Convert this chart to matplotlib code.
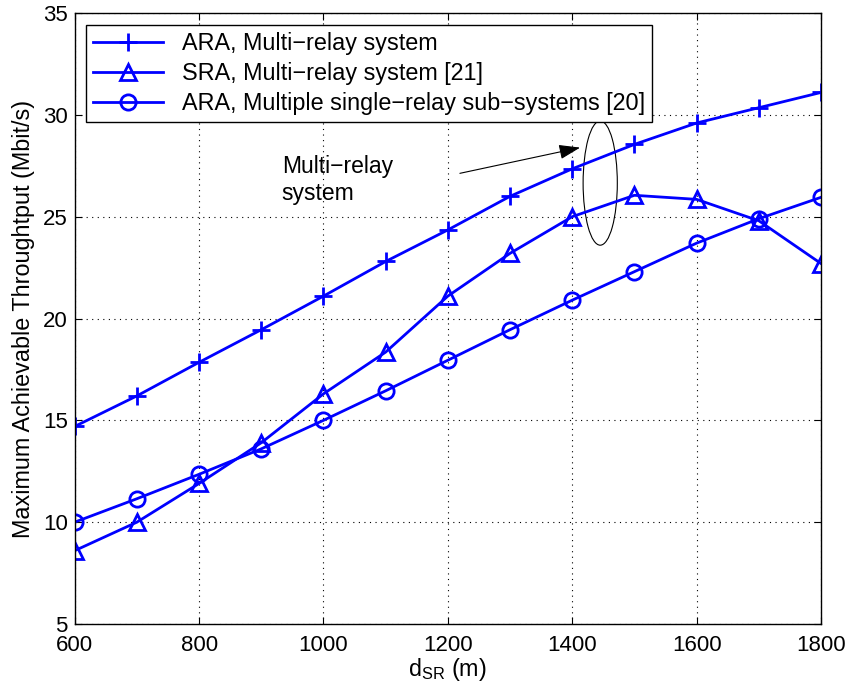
import matplotlib.pyplot as plt
from matplotlib.patches import Ellipse

plt.rcParams['font.family'] = ['Liberation Sans', 'DejaVu Sans']
plt.rcParams['mathtext.fontset'] = 'custom'
plt.rcParams['mathtext.rm'] = 'Liberation Sans'

d_sr = [600, 700, 800, 900, 1000, 1100, 1200, 1300, 1400, 1500, 1600, 1700, 1800]
ara_multi = [14.7, 16.2, 17.85, 19.45, 21.1, 22.8, 24.35, 26.0, 27.35, 28.55, 29.6, 30.35, 31.1]
sra_multi = [8.6, 10.0, 11.9, 13.9, 16.3, 18.35, 21.1, 23.2, 25.0, 26.05, 25.85, 24.8, 22.7]
ara_single = [10.0, 11.15, 12.35, 13.6, 15.0, 16.45, 17.95, 19.45, 20.9, 22.3, 23.7, 24.9, 25.95]

labels = ['ARA, Multi\u2212relay system',
          'SRA, Multi\u2212relay system [21]',
          'ARA, Multiple single\u2212relay sub\u2212systems [20]']

fig = plt.figure(figsize=(8.49, 6.93), dpi=100)
ax = fig.add_axes([0.088, 0.0996, 0.879, 0.8816])

ax.plot(d_sr, ara_multi, color='blue', lw=2, marker='+', ms=13, mew=2, label=labels[0])
ax.plot(d_sr, sra_multi, color='blue', lw=2, marker='^', ms=12, mew=2, mfc='none', label=labels[1])
ax.plot(d_sr, ara_single, color='blue', lw=2, marker='o', ms=11, mew=2, mfc='none', label=labels[2])

# ellipse + annotation
ax.add_patch(Ellipse((1445, 26.65), 55, 6.1, fill=False, edgecolor='black', lw=0.8))
ax.annotate('', xy=(1417, 28.42), xytext=(1215, 27.1),
            arrowprops=dict(arrowstyle='-|>,head_length=1.3,head_width=0.45',
                            color='black', lw=0.8))
ax.text(933, 26.8, 'Multi\u2212relay\nsystem', fontsize=16.5, va='center', ha='left',
        linespacing=1.2)

ax.set_xlim(600, 1800)
ax.set_ylim(5, 35)
ax.set_xticks(range(600, 1801, 200))
ax.set_yticks(range(5, 36, 5))
ax.grid(True, linestyle=(0, (1, 4)), color='black', lw=0.8)
ax.tick_params(direction='in', labelsize=16, length=5, top=True, right=True)
ax.tick_params(axis='x', pad=8)
ax.tick_params(axis='y', pad=5)
for s in ax.spines.values():
    s.set_linewidth(1.0)

ax.set_xlabel('$\\mathregular{d_{SR}}$ (m)', fontsize=16.8, labelpad=0)
ax.set_ylabel('Maximum Achievable Throughtput (Mbit/s)', fontsize=16.8, labelpad=6)

leg = ax.legend(loc='upper left', fontsize=16.8, handlelength=3, fancybox=False,
                framealpha=1, edgecolor='black', borderaxespad=0.5,
                labelspacing=0.3, borderpad=0.3)
leg.get_frame().set_linewidth(1.0)

fig.savefig('out.png', dpi=100)
